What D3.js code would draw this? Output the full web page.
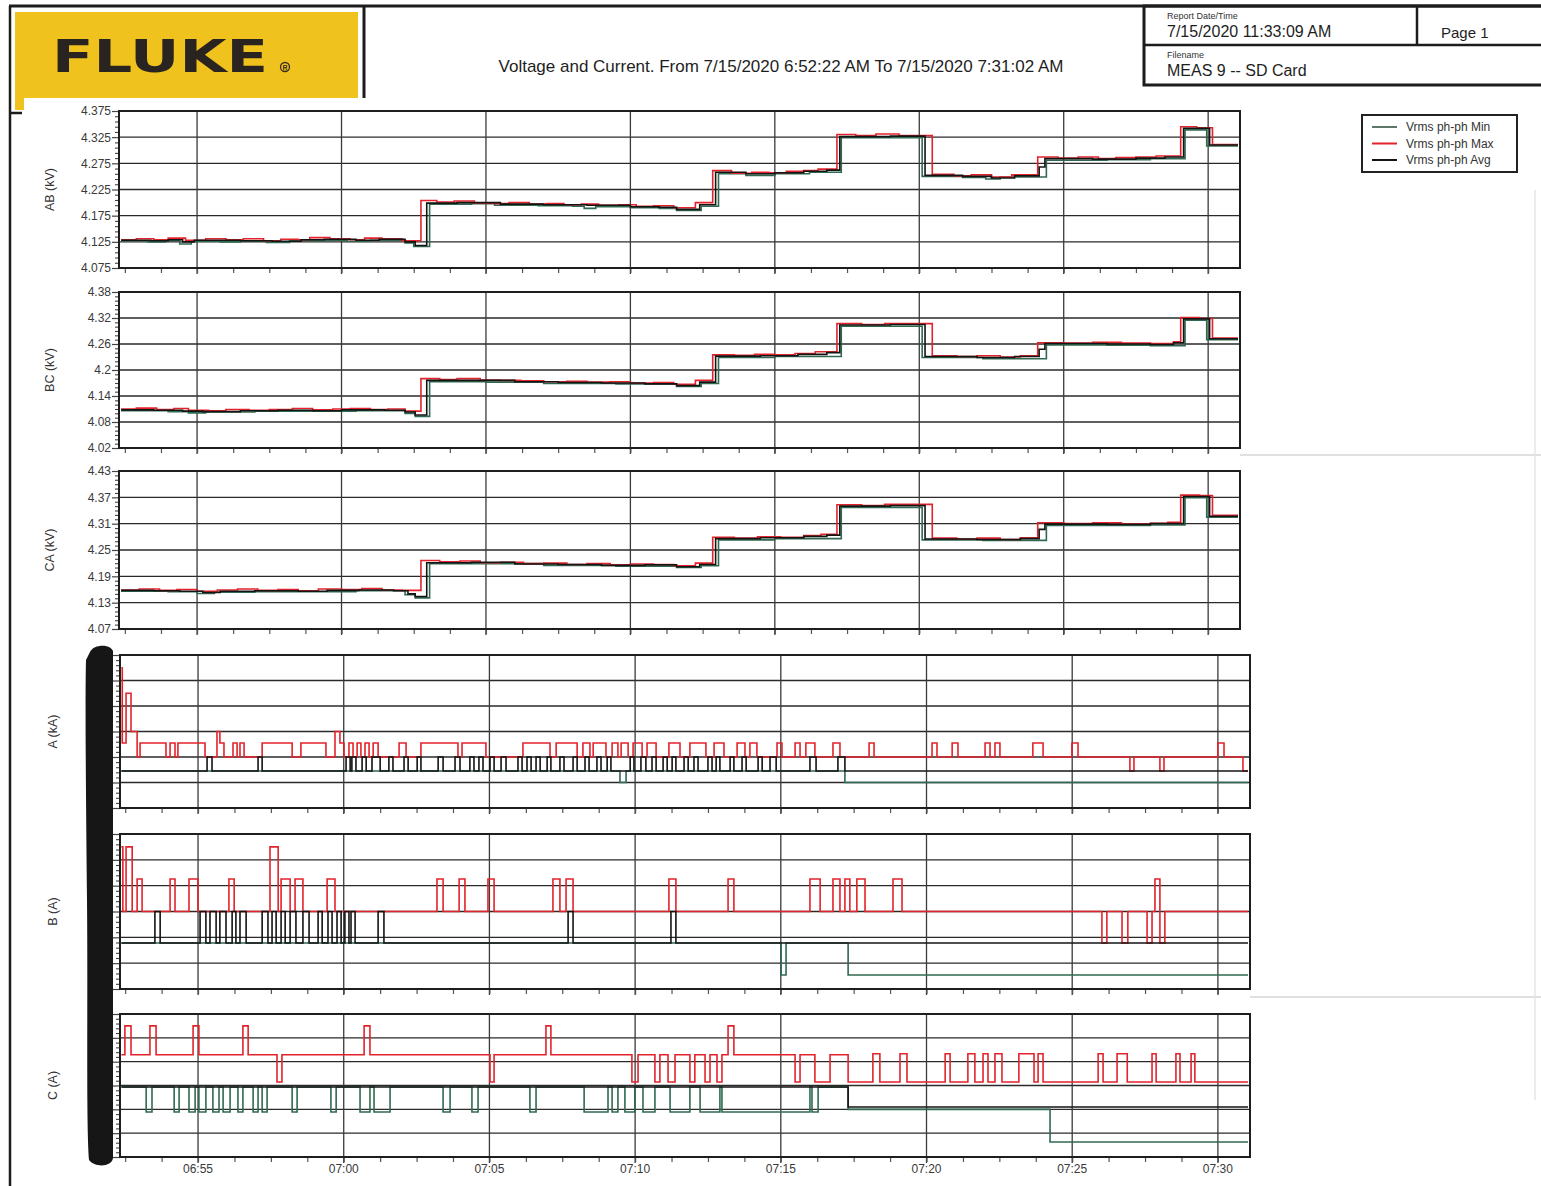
<!DOCTYPE html>
<html>
<head>
<meta charset="utf-8">
<script src="https://cdn.jsdelivr.net/npm/d3@7"></script>
<style>
  body { margin: 0; background: #fff; }
  svg { display: block; font-family: "Liberation Sans", Arial, sans-serif; }
</style>
</head>
<body>
<svg id="page" width="1541" height="1186"></svg>
<script>
// ---------- time axis ----------
// All sample times are minutes after 06:00 on 7/15/2020.
const recStart = 52 + 22 / 60;   // 06:52:22
const recEnd   = 91 + 2 / 60;    // 07:31:02
const timeTickMinutes = [55, 60, 65, 70, 75, 80, 85, 90];
const timeTickLabels  = ["06:55", "07:00", "07:05", "07:10", "07:15", "07:20", "07:25", "07:30"];

// ---------- voltage y ticks ----------
const abTicks = [4.075, 4.125, 4.175, 4.225, 4.275, 4.325, 4.375];
const abTickLabels = ["4.075", "4.125", "4.175", "4.225", "4.275", "4.325", "4.375"];
const bcTicks = [4.02, 4.08, 4.14, 4.2, 4.26, 4.32, 4.38];
const bcTickLabels = ["4.02", "4.08", "4.14", "4.2", "4.26", "4.32", "4.38"];
const caTicks = [4.07, 4.13, 4.19, 4.25, 4.31, 4.37, 4.43];
const caTickLabels = ["4.07", "4.13", "4.19", "4.25", "4.31", "4.37", "4.43"];

// ---------- current y ticks (labels are blacked out on the sheet) ----------
const aTicks = [0, 0.01, 0.02, 0.03, 0.04, 0.05, 0.06];
const bTicks = [0, 10, 20, 30, 40, 50, 60];
const cTicks = [0, 10, 20, 30, 40, 50, 60];

// ---------- AB (kV) ----------
const abMin = [[52.37,4.127],[53.3,4.125],[53.9,4.127],[54.4,4.121],[54.8,4.126],[55.8,4.125],[56.5,4.126],[57.4,4.124],[58.2,4.127],[59.3,4.128],[60.2,4.126],[61.0,4.128],[62.2,4.123],[62.5,4.116],[63.05,4.197],[64.5,4.198],[65.3,4.195],[66.8,4.194],[68.0,4.193],[68.4,4.189],[68.8,4.192],[70.0,4.190],[71.0,4.189],[71.6,4.185],[72.45,4.193],[73.05,4.255],[74.0,4.252],[75.0,4.255],[76.2,4.258],[77.3,4.324],[80.1,4.250],[81.5,4.248],[82.3,4.245],[82.8,4.249],[84.4,4.281],[86.5,4.282],[88.0,4.284],[89.2,4.339],[89.95,4.308]];
const abMax = [[52.37,4.129],[52.9,4.131],[53.5,4.129],[54.0,4.132],[54.6,4.128],[55.3,4.131],[56.0,4.129],[56.6,4.131],[57.3,4.127],[57.9,4.130],[58.5,4.129],[58.9,4.133],[59.6,4.131],[60.3,4.129],[60.8,4.132],[61.4,4.131],[62.1,4.127],[62.75,4.204],[63.3,4.201],[63.9,4.203],[64.6,4.199],[65.3,4.198],[65.8,4.200],[66.5,4.197],[67.1,4.198],[67.7,4.196],[68.3,4.197],[68.9,4.195],[69.6,4.196],[70.2,4.193],[70.8,4.194],[71.5,4.190],[72.25,4.200],[72.85,4.261],[73.5,4.256],[74.2,4.258],[74.8,4.257],[75.4,4.260],[76.0,4.261],[76.5,4.264],[77.15,4.330],[77.8,4.328],[78.5,4.331],[79.3,4.328],[80.45,4.254],[81.2,4.251],[81.8,4.253],[82.5,4.249],[83.2,4.253],[84.1,4.287],[84.8,4.285],[85.5,4.287],[86.2,4.284],[86.8,4.286],[87.5,4.287],[88.2,4.289],[89.05,4.345],[89.6,4.343],[90.15,4.311]];
const abAvg = [[52.37,4.128],[53.4,4.127],[54.0,4.129],[54.5,4.125],[54.9,4.128],[56.5,4.127],[57.6,4.126],[58.6,4.129],[59.4,4.130],[60.5,4.128],[61.3,4.130],[62.2,4.125],[62.55,4.118],[62.95,4.199],[64.0,4.200],[65.5,4.197],[67.0,4.196],[68.5,4.195],[70.0,4.192],[71.0,4.191],[71.6,4.187],[72.4,4.196],[72.95,4.258],[74.0,4.255],[75.0,4.257],[76.0,4.260],[76.8,4.262],[77.25,4.326],[79.0,4.327],[80.2,4.252],[81.5,4.250],[82.5,4.247],[83.3,4.251],[84.15,4.268],[84.35,4.284],[86.0,4.283],[87.5,4.285],[88.5,4.287],[89.15,4.342],[90.05,4.310]];

// ---------- BC (kV) ----------
const bcMin = [[52.37,4.106],[54.0,4.104],[54.7,4.101],[55.3,4.103],[57.0,4.105],[58.8,4.105],[60.5,4.106],[62.2,4.100],[62.55,4.093],[63.05,4.173],[65.0,4.172],[67.0,4.169],[69.5,4.168],[71.6,4.162],[72.45,4.169],[73.05,4.229],[75.0,4.231],[77.3,4.301],[80.1,4.229],[82.2,4.226],[84.4,4.258],[86.5,4.257],[88.0,4.256],[89.2,4.315],[89.95,4.270]];
const bcMax = [[52.37,4.110],[52.9,4.112],[53.6,4.109],[54.2,4.111],[54.7,4.107],[55.4,4.106],[56.0,4.109],[56.8,4.107],[57.5,4.109],[58.3,4.111],[59.0,4.108],[59.7,4.110],[60.3,4.111],[61.0,4.109],[61.6,4.110],[62.2,4.105],[62.75,4.180],[63.4,4.178],[64.0,4.180],[64.8,4.177],[65.5,4.176],[66.2,4.175],[67.0,4.173],[67.8,4.174],[68.5,4.172],[69.3,4.173],[70.0,4.170],[70.8,4.171],[71.5,4.167],[72.25,4.176],[72.85,4.235],[73.6,4.234],[74.3,4.236],[75.0,4.235],[75.7,4.238],[76.4,4.242],[77.15,4.307],[78.0,4.305],[78.8,4.307],[80.45,4.233],[81.3,4.231],[82.0,4.233],[82.8,4.230],[83.5,4.233],[84.1,4.263],[85.0,4.262],[86.0,4.264],[87.0,4.262],[88.0,4.261],[88.8,4.265],[89.05,4.321],[89.7,4.319],[90.15,4.274]];
const bcAvg = [[52.37,4.108],[53.5,4.107],[54.5,4.105],[55.2,4.104],[56.5,4.106],[57.8,4.107],[59.0,4.106],[60.0,4.108],[61.5,4.107],[62.2,4.103],[62.55,4.096],[62.95,4.176],[64.5,4.176],[66.0,4.173],[67.5,4.171],[69.0,4.170],[70.5,4.168],[71.6,4.164],[72.4,4.172],[72.95,4.232],[74.5,4.233],[75.8,4.236],[76.8,4.240],[77.25,4.304],[79.0,4.305],[80.2,4.231],[82.0,4.229],[83.3,4.231],[84.15,4.248],[84.35,4.261],[86.5,4.260],[88.0,4.259],[88.8,4.263],[89.15,4.318],[90.05,4.272]];

// ---------- CA (kV) ----------
const caMin = [[52.37,4.156],[54.0,4.155],[55.0,4.151],[55.6,4.154],[57.0,4.155],[58.8,4.155],[60.5,4.157],[62.2,4.148],[62.55,4.141],[63.05,4.219],[65.0,4.219],[67.0,4.215],[69.5,4.213],[71.6,4.210],[72.45,4.214],[73.05,4.273],[75.0,4.276],[77.3,4.347],[80.1,4.273],[82.2,4.272],[84.4,4.306],[86.5,4.306],[88.0,4.307],[89.2,4.369],[89.95,4.325]];
const caMax = [[52.37,4.159],[53.0,4.161],[53.7,4.158],[54.3,4.160],[55.0,4.156],[55.7,4.159],[56.4,4.161],[57.1,4.158],[57.8,4.160],[58.5,4.157],[59.2,4.161],[60.0,4.160],[60.7,4.162],[61.4,4.159],[62.1,4.158],[62.75,4.226],[63.4,4.223],[64.1,4.225],[64.8,4.221],[65.5,4.222],[66.3,4.219],[67.0,4.220],[67.8,4.217],[68.5,4.219],[69.3,4.216],[70.0,4.218],[70.8,4.217],[71.5,4.214],[72.25,4.220],[72.85,4.279],[73.6,4.277],[74.4,4.280],[75.2,4.279],[76.0,4.283],[76.6,4.286],[77.15,4.353],[78.0,4.351],[78.8,4.354],[80.45,4.277],[81.3,4.275],[82.0,4.277],[82.8,4.274],[83.5,4.278],[84.1,4.312],[85.0,4.310],[86.0,4.312],[87.0,4.309],[88.0,4.311],[88.6,4.313],[89.05,4.375],[89.7,4.374],[90.15,4.329]];
const caAvg = [[52.37,4.158],[53.5,4.157],[54.4,4.156],[55.2,4.153],[55.8,4.156],[57.0,4.157],[58.5,4.156],[59.5,4.158],[60.6,4.159],[61.8,4.157],[62.3,4.150],[62.55,4.144],[62.95,4.221],[64.5,4.222],[66.0,4.218],[67.5,4.217],[69.0,4.215],[70.5,4.216],[71.6,4.212],[72.4,4.217],[72.95,4.276],[74.5,4.278],[76.0,4.281],[76.8,4.284],[77.25,4.350],[79.0,4.351],[80.2,4.275],[82.0,4.274],[83.5,4.276],[84.15,4.297],[84.35,4.309],[86.5,4.308],[88.0,4.310],[89.15,4.372],[90.05,4.327]];

// ---------- A (kA) ----------
const aMin = [[52.37,0.0145],[69.48,0.010],[69.69,0.0145],[77.20,0.010]];
const aMax = [[52.37,0.055],[52.40,0.0255],[52.53,0.045],[52.70,0.030],[52.91,0.020],[53.01,0.0255],[53.90,0.020],[54.04,0.0255],[54.21,0.020],[54.31,0.0255],[55.24,0.020],[55.65,0.030],[55.75,0.0255],[55.89,0.020],[56.20,0.0255],[56.34,0.020],[56.44,0.0255],[56.58,0.020],[57.20,0.0255],[58.23,0.020],[58.53,0.0255],[59.39,0.020],[59.70,0.030],[59.87,0.0255],[60.01,0.020],[60.18,0.0255],[60.32,0.020],[60.46,0.0255],[60.59,0.020],[60.73,0.0255],[60.87,0.020],[61.01,0.0255],[61.18,0.020],[61.90,0.0255],[62.14,0.020],[62.65,0.0255],[63.92,0.020],[64.06,0.0255],[64.88,0.020],[66.15,0.0255],[67.08,0.020],[67.29,0.0255],[68.01,0.020],[68.21,0.0255],[68.45,0.020],[68.56,0.0255],[69.00,0.020],[69.21,0.0255],[69.41,0.020],[69.52,0.0255],[69.76,0.020],[69.93,0.0255],[70.24,0.020],[70.41,0.0255],[70.72,0.020],[71.16,0.0255],[71.54,0.020],[71.88,0.0255],[72.43,0.020],[72.71,0.0255],[73.05,0.020],[73.50,0.0255],[73.77,0.020],[73.94,0.0255],[74.18,0.020],[74.87,0.0255],[75.04,0.020],[75.49,0.0255],[75.66,0.020],[75.86,0.0255],[76.17,0.020],[76.79,0.0255],[77.03,0.020],[78.03,0.0255],[78.20,0.020],[80.19,0.0255],[80.36,0.020],[80.88,0.0255],[81.08,0.020],[82.01,0.0255],[82.18,0.020],[82.35,0.0255],[82.52,0.020],[83.65,0.0255],[84.00,0.020],[84.99,0.0255],[85.20,0.020],[86.98,0.0145],[87.12,0.020],[88.01,0.0145],[88.15,0.020],[90.00,0.0255],[90.21,0.020],[90.86,0.0145]];
const aAvg = [[52.37,0.0145],[55.31,0.020],[55.48,0.0145],[57.06,0.020],[57.20,0.0145],[60.08,0.020],[60.22,0.0145],[60.28,0.020],[60.42,0.0145],[60.63,0.020],[60.77,0.0145],[60.97,0.020],[61.25,0.0145],[61.55,0.020],[61.69,0.0145],[62.07,0.020],[62.21,0.0145],[62.52,0.020],[62.65,0.0145],[63.24,0.020],[63.41,0.0145],[63.82,0.020],[63.99,0.0145],[64.33,0.020],[64.47,0.0145],[64.64,0.020],[64.78,0.0145],[65.02,0.020],[65.16,0.0145],[65.40,0.020],[65.57,0.0145],[65.98,0.020],[66.12,0.0145],[66.29,0.020],[66.43,0.0145],[66.60,0.020],[66.74,0.0145],[66.98,0.020],[67.11,0.0145],[67.42,0.020],[67.56,0.0145],[67.87,0.020],[68.01,0.0145],[68.28,0.020],[68.42,0.0145],[68.69,0.020],[68.83,0.0145],[69.04,0.020],[69.17,0.0145],[69.83,0.020],[69.96,0.0145],[70.20,0.020],[70.37,0.0145],[70.58,0.020],[70.72,0.0145],[70.96,0.020],[71.10,0.0145],[71.27,0.020],[71.40,0.0145],[71.68,0.020],[71.82,0.0145],[72.02,0.020],[72.16,0.0145],[72.50,0.020],[72.64,0.0145],[72.78,0.020],[72.91,0.0145],[73.26,0.020],[73.39,0.0145],[73.67,0.020],[73.81,0.0145],[74.22,0.020],[74.36,0.0145],[74.63,0.020],[74.84,0.0145],[76.00,0.020],[76.21,0.0145],[76.96,0.020],[77.20,0.0145]];

// ---------- B (A) ----------
const bMin = [[52.37,17.8],[75.01,5.4],[75.18,17.8],[77.31,5.4]];
const bMax = [[52.37,55],[52.42,30],[52.53,55],[52.74,30],[52.91,42.6],[53.08,30],[54.04,42.6],[54.21,30],[54.69,42.6],[55.00,30],[56.06,42.6],[56.24,30],[57.47,55],[57.75,30],[57.85,42.6],[58.16,30],[58.33,42.6],[58.60,30],[59.43,42.6],[59.70,30],[63.20,42.6],[63.41,30],[63.96,42.6],[64.16,30],[64.95,42.6],[65.16,30],[67.18,42.6],[67.42,30],[67.63,42.6],[67.87,30],[71.16,42.6],[71.40,30],[73.19,42.6],[73.39,30],[76.00,42.6],[76.35,30],[76.79,42.6],[77.03,30],[77.20,42.6],[77.37,30],[77.61,42.6],[77.89,30],[78.85,42.6],[79.16,30],[86.02,17.8],[86.19,30],[86.71,17.8],[86.91,30],[87.57,17.8],[87.74,30],[87.84,42.6],[88.01,17.8],[88.18,30]];
const bAvg = [[52.37,17.8],[53.52,30],[53.70,17.8],[55.07,30],[55.27,17.8],[55.41,30],[55.62,17.8],[55.75,30],[55.96,17.8],[56.17,30],[56.30,17.8],[56.44,30],[56.65,17.8],[57.20,30],[57.40,17.8],[57.54,30],[57.68,17.8],[57.85,30],[57.99,17.8],[58.16,30],[58.36,17.8],[58.60,30],[58.81,17.8],[59.12,30],[59.26,17.8],[59.46,30],[59.60,17.8],[59.77,30],[59.91,17.8],[60.04,30],[60.18,17.8],[60.25,30],[60.39,17.8],[61.18,30],[61.38,17.8],[67.70,30],[67.87,17.8],[71.23,30],[71.40,17.8]];

// ---------- C (A) ----------
const cMin = [[52.37,29.4],[53.22,18.9],[53.42,29.4],[54.18,18.9],[54.35,29.4],[54.69,18.9],[54.90,29.4],[55.03,18.9],[55.27,29.4],[55.51,18.9],[55.72,29.4],[55.86,18.9],[56.10,29.4],[56.37,18.9],[56.54,29.4],[56.89,18.9],[57.06,29.4],[57.20,18.9],[57.37,29.4],[58.23,18.9],[58.40,29.4],[59.56,18.9],[59.74,29.4],[60.56,18.9],[60.90,29.4],[61.04,18.9],[61.59,29.4],[63.41,18.9],[63.65,29.4],[64.40,18.9],[64.61,29.4],[66.39,18.9],[66.60,29.4],[68.25,18.9],[69.07,29.4],[69.21,18.9],[69.41,29.4],[69.65,18.9],[69.99,29.4],[70.27,18.9],[70.68,29.4],[71.20,18.9],[71.88,29.4],[72.23,18.9],[72.91,29.4],[72.98,18.9],[76.00,29.4],[76.07,18.9],[76.28,29.4],[77.31,20.0],[84.24,6.3]];
const cMax = [[52.37,42.9],[52.49,55],[52.70,42.9],[53.35,55],[53.56,42.9],[54.83,55],[55.03,42.9],[56.54,55],[56.72,42.9],[57.71,31.5],[57.88,42.9],[60.70,55],[60.90,42.9],[65.02,31.5],[65.16,42.9],[66.94,55],[67.11,42.9],[69.89,31.5],[70.10,42.9],[70.68,31.5],[70.85,42.9],[71.13,31.5],[71.37,42.9],[71.88,31.5],[72.05,42.9],[72.40,31.5],[72.57,42.9],[72.81,31.5],[72.98,42.9],[73.19,55],[73.39,42.9],[75.49,31.5],[75.66,42.9],[76.17,31.5],[76.69,42.9],[77.31,31.5],[78.16,43.3],[78.40,31.5],[79.09,43.3],[79.33,31.5],[80.64,43.3],[80.81,31.5],[81.42,43.3],[81.66,31.5],[81.94,43.3],[82.11,31.5],[82.35,43.3],[82.59,31.5],[83.17,43.3],[83.69,31.5],[83.83,43.3],[84.00,31.5],[85.89,43.3],[86.06,31.5],[86.54,43.3],[86.89,31.5],[87.74,43.3],[87.88,31.5],[88.56,43.3],[88.70,31.5],[89.08,43.3],[89.21,31.5]];
const cAvg = [[52.37,29.4],[77.31,21.0]];

// ---------- legend ----------
const legendNames = ["Vrms ph-ph Min", "Vrms ph-ph Max", "Vrms ph-ph Avg"];

// ---------- drawing ----------
const COLORS = { min: "#2f6a50", max: "#e3232c", avg: "#141414" };
const svg = d3.select("#page");
const base = new Date(2020, 6, 15, 6, 0, 0).getTime();
const asDate = m => new Date(base + m * 60000);

// page frame and header
const frame = svg.append("g").attr("stroke", "#1c1c1c").attr("fill", "none");
frame.append("line").attr("x1", 9).attr("x2", 1541).attr("y1", 6).attr("y2", 6).attr("stroke-width", 3);
frame.append("line").attr("x1", 10).attr("x2", 10).attr("y1", 6).attr("y2", 1186).attr("stroke-width", 2.5);
frame.append("line").attr("x1", 364).attr("x2", 364).attr("y1", 6).attr("y2", 98).attr("stroke-width", 3);
frame.append("line").attr("x1", 10).attr("x2", 22).attr("y1", 113).attr("y2", 113).attr("stroke-width", 2.5);
frame.append("rect").attr("x", 1144).attr("y", 6).attr("width", 400).attr("height", 79).attr("stroke-width", 3);
frame.append("line").attr("x1", 1144).attr("x2", 1541).attr("y1", 45).attr("y2", 45).attr("stroke-width", 2.5);
frame.append("line").attr("x1", 1417).attr("x2", 1417).attr("y1", 6).attr("y2", 45).attr("stroke-width", 2.5);

// faint scanner marks across the sheet
const faint = svg.append("g").attr("stroke", "#d6d6d6").attr("stroke-width", 1.5);
faint.append("line").attr("x1", 1240).attr("x2", 1541).attr("y1", 455).attr("y2", 455);
faint.append("line").attr("x1", 1250).attr("x2", 1541).attr("y1", 997).attr("y2", 997);
faint.append("line").attr("x1", 1535).attr("x2", 1535).attr("y1", 190).attr("y2", 1100).attr("stroke", "#e6e6e6");

// logo
svg.append("rect").attr("x", 15).attr("y", 12).attr("width", 343).attr("height", 86).attr("fill", "#efc21d");
svg.append("rect").attr("x", 15).attr("y", 96).attr("width", 9).attr("height", 14).attr("fill", "#efc21d");
svg.append("text").attr("x", 52).attr("y", 72).attr("font-size", 44).attr("font-weight", 900)
  .attr("textLength", 216).attr("lengthAdjust", "spacingAndGlyphs").attr("fill", "#2a2420")
  .style("font-family", "'DejaVu Sans', 'Liberation Sans', sans-serif").text("FLUKE");
svg.append("circle").attr("cx", 285).attr("cy", 67).attr("r", 4.5).attr("fill", "none").attr("stroke", "#3a2d20").attr("stroke-width", 1.3);
svg.append("text").attr("x", 285).attr("y", 69.5).attr("font-size", 7).attr("font-weight", 700).attr("text-anchor", "middle").attr("fill", "#3a2d20").text("R");

// header text
svg.append("text").attr("x", 781).attr("y", 72).attr("font-size", 17).attr("text-anchor", "middle").attr("fill", "#1e1e1e")
  .text("Voltage and Current. From 7/15/2020 6:52:22 AM To 7/15/2020 7:31:02 AM");
svg.append("text").attr("x", 1167).attr("y", 19).attr("font-size", 9).attr("fill", "#333").text("Report Date/Time");
svg.append("text").attr("x", 1167).attr("y", 37).attr("font-size", 16).attr("fill", "#1e1e1e").text("7/15/2020 11:33:09 AM");
svg.append("text").attr("x", 1441).attr("y", 38).attr("font-size", 15).attr("fill", "#1e1e1e").text("Page 1");
svg.append("text").attr("x", 1167).attr("y", 58).attr("font-size", 9).attr("fill", "#333").text("Filename");
svg.append("text").attr("x", 1167).attr("y", 76).attr("font-size", 16).attr("fill", "#1e1e1e").text("MEAS 9 -- SD Card");

// panels
const panels = [
  { label: "AB (kV)", ticks: abTicks, tickLabels: abTickLabels, minorPer: 5, series: [abMin, abMax, abAvg], left: 119, right: 1240, top: 111, bottom: 268, r0: 121, r1: 1238 },
  { label: "BC (kV)", ticks: bcTicks, tickLabels: bcTickLabels, minorPer: 6, series: [bcMin, bcMax, bcAvg], left: 119, right: 1240, top: 292, bottom: 448, r0: 121, r1: 1238 },
  { label: "CA (kV)", ticks: caTicks, tickLabels: caTickLabels, minorPer: 6, series: [caMin, caMax, caAvg], left: 119, right: 1240, top: 471, bottom: 629, r0: 121, r1: 1238 },
  { label: "A (kA)", ticks: aTicks, tickLabels: null, minorPer: 5, series: [aMin, aMax, aAvg], left: 120, right: 1250, top: 655, bottom: 808, r0: 121.3, r1: 1248 },
  { label: "B (A)", ticks: bTicks, tickLabels: null, minorPer: 5, series: [bMin, bMax, bAvg], left: 120, right: 1250, top: 834, bottom: 989, r0: 121.3, r1: 1248 },
  { label: "C (A)", ticks: cTicks, tickLabels: null, minorPer: 5, series: [cMin, cMax, cAvg], left: 120, right: 1250, top: 1014, bottom: 1157, r0: 121.3, r1: 1248, timeLabels: true }
];

const seriesColors = [COLORS.min, COLORS.max, COLORS.avg];

panels.forEach(p => {
  const x = d3.scaleTime().domain([asDate(recStart), asDate(recEnd)]).range([p.r0, p.r1]);
  const y = d3.scaleLinear().domain([p.ticks[0], p.ticks[p.ticks.length - 1]]).range([p.bottom, p.top]);
  const g = svg.append("g");

  // horizontal grid
  g.append("g").selectAll("line").data(p.ticks).join("line")
    .attr("x1", p.left).attr("x2", p.right)
    .attr("y1", d => y(d)).attr("y2", d => y(d))
    .attr("stroke", "#2a2a2a").attr("stroke-width", 1.4);

  // vertical grid at 5-minute marks, running a little below the frame
  g.append("g").selectAll("line").data(timeTickMinutes).join("line")
    .attr("x1", d => x(asDate(d))).attr("x2", d => x(asDate(d)))
    .attr("y1", p.top).attr("y2", p.bottom + 6)
    .attr("stroke", "#3a3a3a").attr("stroke-width", 1.3);

  // minor time ticks below the frame
  const minorT = d3.range(52.5, recEnd, 1.25);
  g.append("g").attr("transform", `translate(0,${p.bottom})`)
    .call(d3.axisBottom(x).tickValues(minorT.map(asDate)).tickSize(5).tickFormat(""))
    .call(a => a.select(".domain").remove())
    .call(a => a.selectAll("line").attr("stroke", "#555").attr("stroke-width", 1.2));

  // y axis: minor ticks and labelled major ticks
  const minorY = [];
  for (let i = 0; i < p.ticks.length - 1; i++) {
    const step = (p.ticks[i + 1] - p.ticks[i]) / p.minorPer;
    for (let k = 1; k < p.minorPer; k++) minorY.push(p.ticks[i] + k * step);
  }
  g.append("g").attr("transform", `translate(${p.left},0)`)
    .call(d3.axisLeft(y).tickValues(minorY).tickSize(4).tickFormat(""))
    .call(a => a.select(".domain").remove())
    .call(a => a.selectAll("line").attr("stroke", "#444").attr("stroke-width", 1.1));
  const major = g.append("g").attr("transform", `translate(${p.left},0)`)
    .call(d3.axisLeft(y).tickValues(p.ticks).tickSize(7).tickPadding(1)
      .tickFormat((d, i) => p.tickLabels ? p.tickLabels[i] : ""))
    .call(a => a.select(".domain").remove());
  major.selectAll("line").attr("stroke", "#444").attr("stroke-width", 1.2);
  major.selectAll("text").attr("font-size", 12).attr("fill", "#3a3a3a")
    .style("font-family", "'Liberation Sans', Arial, sans-serif");

  // series as step traces
  const line = d3.line()
    .x(d => x(asDate(d[0])))
    .y(d => y(d[1]))
    .curve(d3.curveStepAfter);
  p.series.forEach((s, i) => {
    const pts = s.concat([[recEnd, s[s.length - 1][1]]]);
    g.append("path").datum(pts)
      .attr("d", line)
      .attr("fill", "none")
      .attr("stroke", seriesColors[i])
      .attr("stroke-width", 1.6)
      .attr("stroke-linejoin", "miter");
  });

  // plot frame
  g.append("rect").attr("x", p.left).attr("y", p.top)
    .attr("width", p.right - p.left).attr("height", p.bottom - p.top)
    .attr("fill", "none").attr("stroke", "#1e1e1e").attr("stroke-width", 2);

  // axis title
  const cy = (p.top + p.bottom) / 2;
  svg.append("text")
    .attr("transform", `translate(${p.timeLabels || p.label.length < 7 ? 57 : 54},${cy}) rotate(-90)`)
    .attr("text-anchor", "middle").attr("font-size", 12.5).attr("fill", "#333")
    .text(p.label);

  if (p.timeLabels) {
    svg.append("g").selectAll("text").data(timeTickMinutes).join("text")
      .attr("x", d => x(asDate(d))).attr("y", p.bottom + 16)
      .attr("text-anchor", "middle").attr("font-size", 12).attr("fill", "#3a3a3a")
      .text((d, i) => timeTickLabels[i]);
  }
});

// marker stroke blacking out the current scale labels
svg.append("path")
  .attr("d", "M90,652 C94,644 110,644 113,651 L113,1158 C112,1167 95,1168 89,1160 C86,1120 88,1000 87,900 C86,800 85,700 86,660 Z")
  .attr("fill", "#161616");

// legend
const lg = svg.append("g").attr("transform", "translate(1362,115)");
lg.append("rect").attr("width", 155).attr("height", 57).attr("fill", "#fff").attr("stroke", "#222").attr("stroke-width", 2);
legendNames.forEach((n, i) => {
  const yy = 12 + i * 16.5;
  lg.append("line").attr("x1", 10).attr("x2", 35).attr("y1", yy).attr("y2", yy)
    .attr("stroke", i === 0 ? "#5d7868" : seriesColors[i]).attr("stroke-width", 2);
  lg.append("text").attr("x", 44).attr("y", yy + 4).attr("font-size", 12).attr("fill", "#333").text(n);
});
</script>
</body>
</html>
